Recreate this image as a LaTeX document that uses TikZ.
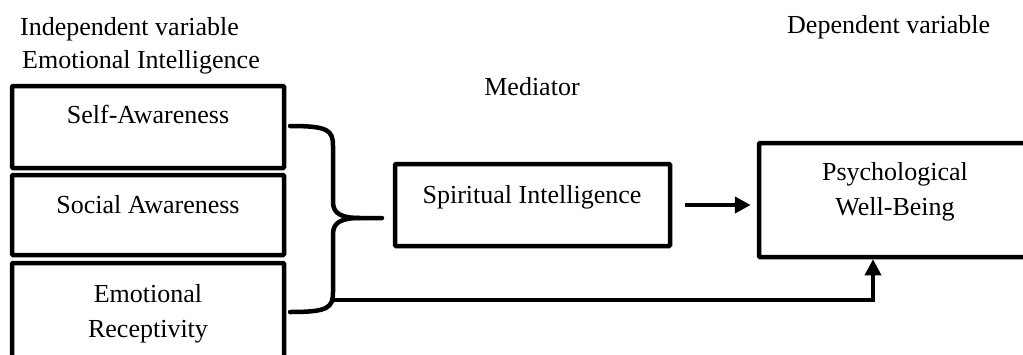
\documentclass[tikz,border=0pt]{standalone}
\usepackage{fontspec}
\setmainfont{Liberation Serif}
\usetikzlibrary{arrows.meta,calc}
\begin{document}
\begin{tikzpicture}[x=1pt,y=-1pt,
  every node/.style={font=\fontsize{26}{35}\selectfont},
  box/.style={draw, line width=4.5pt, inner sep=0pt, rounded corners=1pt},
  txt/.style={inner sep=0pt, anchor=base, align=center},
  arr/.style={line width=4pt, -{Triangle[length=16pt,width=16pt]}},
  bracepath/.style={line width=4.5pt, line cap=round}]
\useasboundingbox (0,0) rectangle (1023,354);
\clip (0,0) rectangle (1023,354);
% headings
\node[txt, anchor=base west] (iv) at (20,35) {Independent variable};
\node[txt] (ei) at (141,68) {Emotional Intelligence};
\node[txt] (med) at (532,95) {Mediator};
\node[txt, anchor=base west] (dv) at (787,33) {Dependent variable};
% boxes
\node[box, minimum width=272pt, minimum height=82pt] (sa) at (148,127) {};
\node[box, minimum width=272pt, minimum height=80pt] (soc) at (148,215) {};
\node[box, minimum width=272pt, minimum height=110pt] (er) at (148,318) {};
\node[box, minimum width=275pt, minimum height=82pt] (si) at (532.5,205) {};
\node[box, minimum width=272pt, minimum height=114pt] (pwb) at (895,200) {};
% box texts
\node[txt] (tsa) at (148,123) {Self-Awareness};
\node[txt] (tsoc) at (148,213) {Social Awareness};
\node[txt] (ter1) at (148,302) {Emotional};
\node[txt] (ter2) at (148,337) {Receptivity};
\node[txt] (tsi) at (532,203) {Spiritual Intelligence};
\node[txt] (tp1) at (895,180) {Psychological};
\node[txt] (tp2) at (895,215) {Well-Being};
% brace
\coordinate (btop) at (290,126);
\coordinate (bbot) at (290,312);
\coordinate (btip) at (382,218);
\coordinate (bout) at (333,300);
\draw[bracepath, line join=round] (btop) .. controls (328,126) and (333,130) .. (333,146) -- (333,202)
   .. controls (333,214) and (342,218) .. (360,218) -- (btip);
\draw[bracepath, line join=round] (360,218) .. controls (342,218) and (333,222) .. (333,234) -- (333,292)
   .. controls (333,308) and (328,312) .. (bbot);
% connectors
\coordinate (pin) at ([xshift=-22pt]pwb.south);
\draw[arr] ([xshift=13pt]si.east) -- ([xshift=-6pt]si.east -| pwb.west);
\draw[arr, line width=3.5pt] (bout) -| (pin);
\end{tikzpicture}
\end{document}
